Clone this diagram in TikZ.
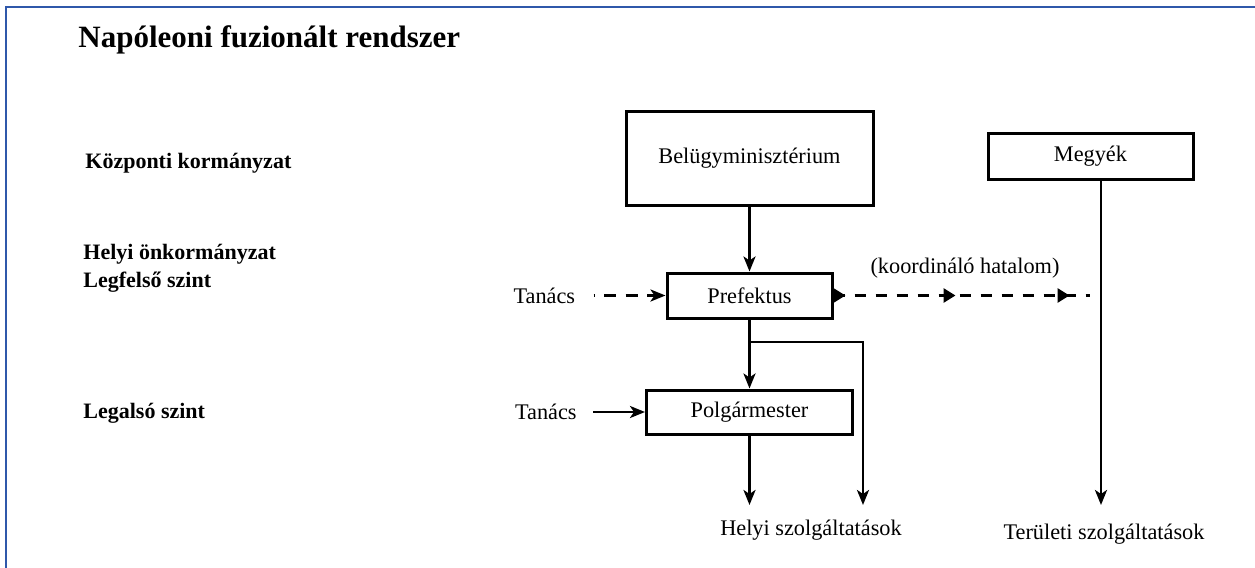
\documentclass[tikz,border=0pt]{standalone}
\usepackage{fontspec}
\setmainfont{Liberation Serif}
\usetikzlibrary{arrows.meta, positioning, decorations.markings}
\definecolor{frameblue}{RGB}{47,88,170}

\begin{document}
\begin{tikzpicture}[
	x = 0.5pt, y = -0.5pt,
	box/.style={draw, line width=1.5pt, inner sep=0pt, font=\fontsize{11.15}{13}\selectfont},
	level/.style={anchor=base west, inner sep=0pt, align=left, font=\fontsize{11}{14}\selectfont\bfseries},
	plain/.style={inner sep=0pt, font=\fontsize{11.15}{13}\selectfont},
	link/.style={line width=1.4pt, -{Stealth[length=7.5pt, width=6pt, inset=2pt]}},
	coord/.style={line width=1.4pt, dash pattern=on 5.5pt off 5pt},
	]
	\useasboundingbox (0,0) rectangle (1255,568);
	\draw[frameblue, line width=1.3pt] (6,568) -- (6,7) -- (1255,7);
	\node (title) [anchor=base west, inner sep=0pt, font=\fontsize{15.5}{18}\selectfont\bfseries] at (78,47) {Napóleoni fuzionált rendszer};

	\node (kozponti) [level] at (85,168) {Központi kormányzat};
	\node (helyi) [level] at (83,287) {Helyi önkormányzat\\Legfelső szint};
	\node (legalso) [level] at (83,418) {Legalsó szint};

	\node (Belugy) [box, minimum width=123.5pt, minimum height=47pt] at (749.5,158) {Belügyminisztérium};
	\node (Megyek) [box, minimum width=102.5pt, minimum height=23pt] at (1090.5,156) {Megyék};
	\node (Prefektus) [box, minimum width=82.5pt, minimum height=22.5pt] at (749.5,295.5) {Prefektus};
	\node (Polgar) [box, minimum width=103pt, minimum height=22pt] at (749.5,412) {Polgármester};

	\node (TanacsFent) [plain, left=45pt of Prefektus] {Tanács};
	\node (TanacsLent) [plain, left=34pt of Polgar] {Tanács};
	\node (koord) [plain] at (965,268) {(koordináló hatalom)};
	\node (HelyiSzolg) [plain] at (811,530) {Helyi szolgáltatások};
	\node (TeruletiSzolg) [plain] at (1104,534) {Területi szolgáltatások};

	\coordinate (elagazas) at (749.5,342);
	\coordinate (helyivege) at (863,505);
	\coordinate (megyevege) at (1101,505);
	\coordinate (koordvege) at (1090,295.5);

	\draw[link] (Belugy) -- (Prefektus);
	\draw[link] (Prefektus) -- (Polgar);
	\draw[link] (elagazas) -| (helyivege);
	\draw[link] (Polgar.south) -- (Polgar.south |- helyivege);
	\draw[link] (Megyek.south -| megyevege) -- (megyevege);
	\draw[link] (TanacsLent.east) [shorten <=8pt] -- (Polgar.west);
	\draw[link, coord, dash pattern=on 6pt off 4.75pt, dash phase=5.5pt, shorten <=9pt] (TanacsFent.east) -- (Prefektus.west);
	\draw[coord, postaction={decorate}, decoration={markings,
		mark=at position 6pt with {\arrow{Triangle[length=6pt, width=7pt]}},
		mark=at position 61pt with {\arrow{Triangle[length=6pt, width=7pt]}},
		mark=at position 118pt with {\arrow{Triangle[length=6pt, width=7pt]}}}]
		(Prefektus.east) -- (koordvege);
\end{tikzpicture}
\end{document}
